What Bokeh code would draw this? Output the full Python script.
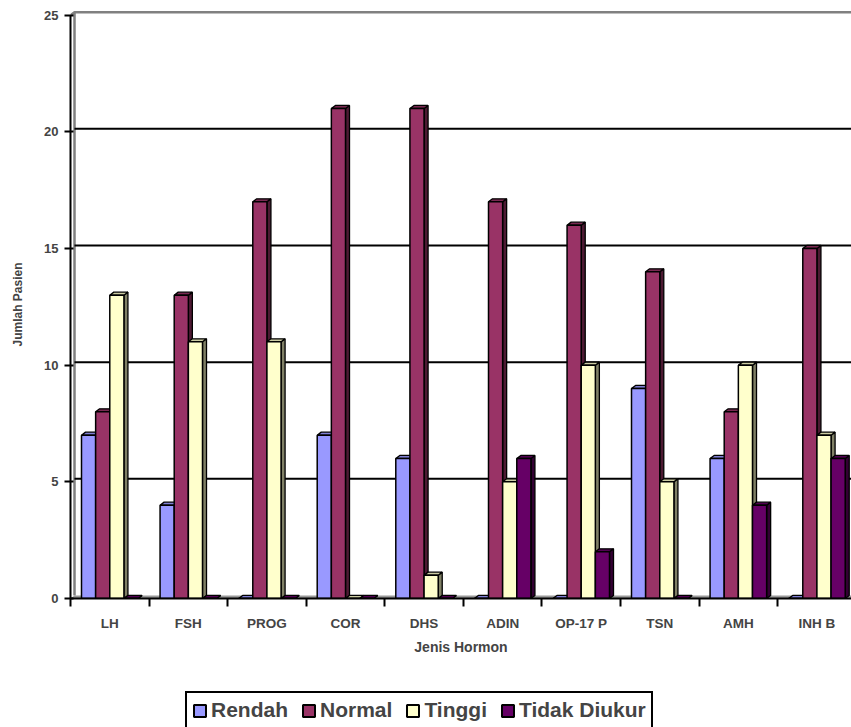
from bokeh.plotting import figure
from bokeh.layouts import column
from bokeh.models import FixedTicker, Legend, LegendItem, Range1d, CustomJSTickFormatter
from bokeh.embed import file_html
from bokeh.resources import INLINE

# ---- data ----
categories = ["LH", "FSH", "PROG", "COR", "DHS", "ADIN", "OP-17 P", "TSN", "AMH", "INH B"]
rendah = [7, 4, 0, 7, 6, 0, 0, 9, 6, 0]
normal = [8, 13, 17, 21, 21, 17, 16, 14, 8, 15]
tinggi = [13, 11, 11, 0, 1, 5, 10, 5, 10, 7]
tidak_diukur = [0, 0, 0, 0, 0, 6, 2, 0, 4, 6]
series_names = ["Rendah", "Normal", "Tinggi", "Tidak Diukur"]
y_ticks = [0, 5, 10, 15, 20, 25]

# ---- style ----
front_colors = ["#9999FF", "#993366", "#FFFFCC", "#660066"]
top_colors = ["#7F7FD4", "#7A2952", "#CCCCA3", "#520052"]
side_colors = ["#4D4D80", "#4D1A33", "#808066", "#330033"]
FONT = "Liberation Sans"
DX = 0.051      # depth offset (category units)
DY = 0.13       # depth offset (value units)
BAR_W = 0.18
GROUP_START = 0.14
X_END = 9.94
Y_END = 25.2

series_values = [rendah, normal, tinggi, tidak_diukur]
n = len(categories)

p = figure(width=851, height=691, output_backend="svg", toolbar_location=None,
           x_range=Range1d(0, X_END), y_range=Range1d(0, Y_END),
           min_border_left=70, min_border_right=0, min_border_top=10,
           min_border_bottom=93)
p.xgrid.visible = False
p.ygrid.visible = False
p.outline_line_color = None

# floor
p.patch([0, DX, X_END, X_END], [0, DY, DY, 0], fill_color="#9A9A9A", line_color=None)
# back wall edges
p.line([0, DX, X_END], [y_ticks[-1], y_ticks[-1] + DY, y_ticks[-1] + DY],
       line_color="#808080", line_width=2.5)
p.line([DX, DX], [DY, y_ticks[-1] + DY], line_color="#808080", line_width=2.5)
# gridlines on back wall
grid_vals = [t for t in y_ticks if 0 < t < y_ticks[-1]]
p.multi_line(xs=[[DX, X_END] for _ in grid_vals],
             ys=[[t + DY, t + DY] for t in grid_vals],
             line_color="black", line_width=2)

for j, (name, vals) in enumerate(zip(series_names, series_values)):
    x0 = [i + GROUP_START + j * BAR_W for i in range(n)]
    x1 = [a + BAR_W for a in x0]
    xc = [a + BAR_W / 2 for a in x0]
    side_xs = [[b, b, b + DX, b + DX] for b in x1]
    side_ys = [[0, v, v + DY, DY] for v in vals]
    top_xs = [[a, a + DX, b + DX, b] for a, b in zip(x0, x1)]
    top_ys = [[v, v + DY, v + DY, v] for v in vals]
    p.patches(side_xs, side_ys, fill_color=side_colors[j], line_color="black", line_width=1.3)
    p.patches(top_xs, top_ys, fill_color=top_colors[j], line_color="black", line_width=1.3)
    p.vbar(x=xc, top=vals, bottom=0, width=BAR_W, fill_color=front_colors[j],
           line_color="black", line_width=1.5)

# y axis
ya = p.yaxis[0]
ya.ticker = FixedTicker(ticks=y_ticks, minor_ticks=[])
ya.bounds = (y_ticks[0], y_ticks[-1])
ya.axis_line_width = 2
ya.axis_line_color = "black"
ya.major_tick_line_width = 2
ya.major_tick_out = 6
ya.major_tick_in = 3
ya.minor_tick_out = 0
ya.minor_tick_in = 0
ya.major_label_text_font = FONT
ya.major_label_text_font_style = "bold"
ya.major_label_text_font_size = "13px"
ya.major_label_standoff = 6
ya.axis_label = "Jumlah Pasien"
ya.axis_label_text_font = FONT
ya.axis_label_text_font_style = "bold"
ya.axis_label_text_font_size = "12px"
ya.axis_label_standoff = 16

# x axis
xa = p.xaxis[0]
centers = [i + 0.5 for i in range(n)]
bounds = list(range(n + 1))
xa.ticker = FixedTicker(ticks=centers, minor_ticks=bounds)
xa.formatter = CustomJSTickFormatter(args=dict(cats=categories),
                                     code="return cats[Math.floor(tick)];")
xa.axis_line_width = 2
xa.axis_line_color = "black"
xa.major_tick_out = 0
xa.major_tick_in = 0
xa.minor_tick_out = 8
xa.minor_tick_in = 0
xa.minor_tick_line_width = 2
xa.minor_tick_line_color = "black"
xa.major_label_text_font = FONT
xa.major_label_text_font_style = "bold"
xa.major_label_text_font_size = "13.5px"
xa.major_label_standoff = 9
xa.axis_label = "Jenis Hormon"
xa.axis_label_text_font = FONT
xa.axis_label_text_font_style = "bold"
xa.axis_label_text_font_size = "14px"
xa.axis_label_standoff = 5

# legend strip (swatch renderers hold no drawable point)
lg = figure(width=851, height=36, output_backend="svg", toolbar_location=None,
            x_range=Range1d(0, 1), y_range=Range1d(0, 1),
            x_axis_location=None, y_axis_location=None,
            min_border_left=0, min_border_right=0, min_border_top=0, min_border_bottom=0)
lg.xgrid.visible = False
lg.ygrid.visible = False
lg.outline_line_color = None
nan = float("nan")
items = []
for j, name in enumerate(series_names):
    r = lg.vbar(x=[nan], top=[nan], bottom=[nan], width=0.1, fill_color=front_colors[j],
                line_color="black", line_width=2)
    items.append(LegendItem(label=name, renderers=[r]))
legend = Legend(items=items, orientation="horizontal", location=(115, -2),
                label_text_font=FONT, label_text_font_style="bold",
                label_text_font_size="21px", glyph_width=15, glyph_height=15,
                label_standoff=4, spacing=13, padding=5, margin=0,
                border_line_color="black", border_line_width=2, border_line_alpha=1.0)
lg.add_layout(legend, "center")

layout = column(p, lg, spacing=0)
open("out.html", "w").write(file_html(layout, INLINE))
